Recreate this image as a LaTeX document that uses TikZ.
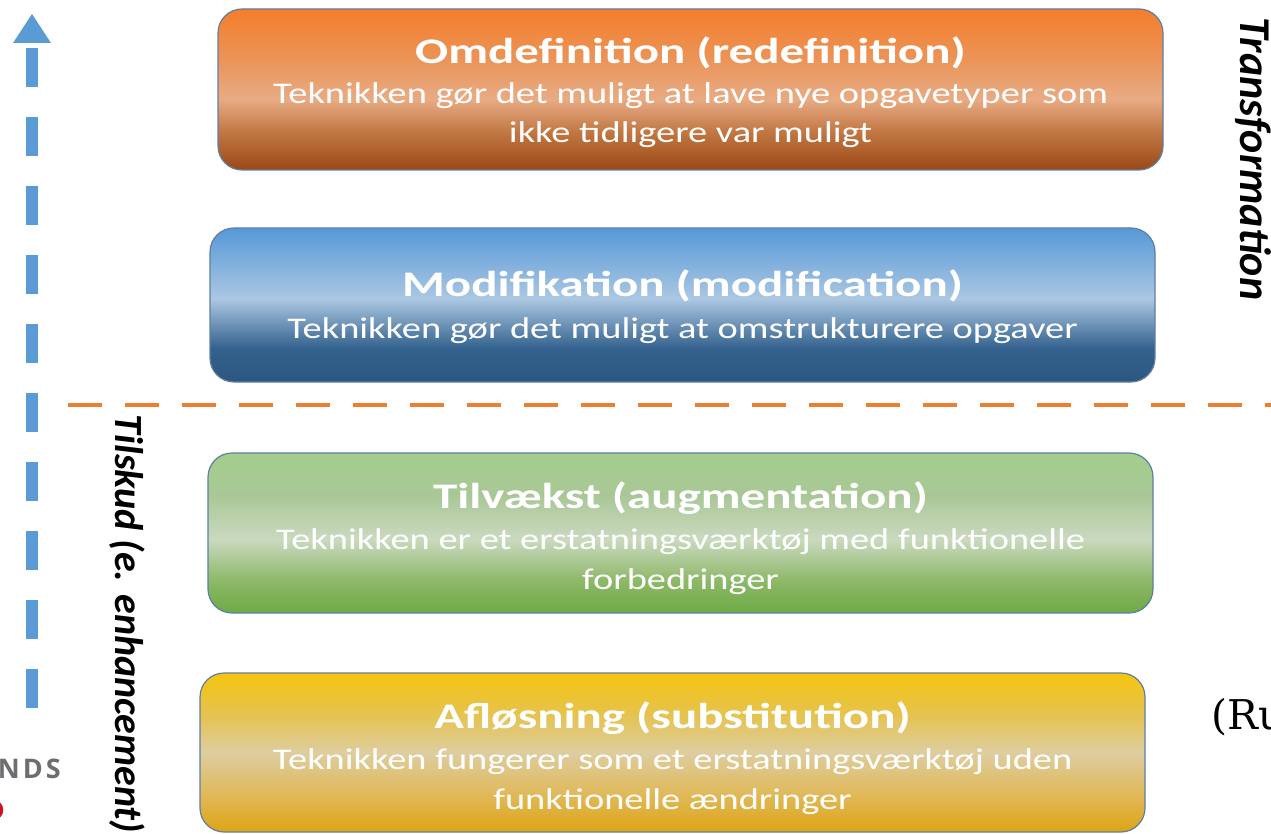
\documentclass[tikz,border=0pt]{standalone}
\usepackage{fontspec}
\setmainfont{Carlito}
\newfontfamily\slabfont{DejaVu Serif}
\newfontfamily\logofont{Open Sans}
\definecolor{arrowblue}{HTML}{5B9BD5}
\definecolor{dashorange}{HTML}{ED7D31}
\definecolor{boxborder}{HTML}{5E7FA3}
\definecolor{logogrey}{HTML}{6D6E71}
\definecolor{logored}{HTML}{D0102B}
\definecolor{oA}{HTML}{9A4816}\definecolor{oB}{HTML}{C27844}\definecolor{oC}{HTML}{E8AB84}\definecolor{oD}{HTML}{EB9356}\definecolor{oE}{HTML}{F57E2B}
\definecolor{bA}{HTML}{2C5680}\definecolor{bB}{HTML}{34628E}\definecolor{bC}{HTML}{ABC7E2}\definecolor{bD}{HTML}{5699D8}
\definecolor{gA}{HTML}{6DAA44}\definecolor{gB}{HTML}{8DB868}\definecolor{gC}{HTML}{CAD9BF}\definecolor{gD}{HTML}{A9C796}\definecolor{gE}{HTML}{A3CE8C}
\definecolor{yA}{HTML}{DEA414}\definecolor{yB}{HTML}{E0B95A}\definecolor{yC}{HTML}{DECDA0}\definecolor{yD}{HTML}{E5C34E}\definecolor{yE}{HTML}{F6C40F}
\pgfdeclareverticalshading{orangeshade}{100bp}{color(0bp)=(oA); color(25bp)=(oA); color(37bp)=(oB); color(47bp)=(oC); color(60bp)=(oD); color(75bp)=(oE); color(100bp)=(oE)}
\pgfdeclareverticalshading{blueshade}{100bp}{color(0bp)=(bA); color(25bp)=(bA); color(36bp)=(bB); color(52bp)=(bC); color(75bp)=(bD); color(100bp)=(bD)}
\pgfdeclareverticalshading{greenshade}{100bp}{color(0bp)=(gA); color(25bp)=(gA); color(35bp)=(gB); color(48bp)=(gC); color(62bp)=(gD); color(75bp)=(gE); color(100bp)=(gE)}
\pgfdeclareverticalshading{yellowshade}{100bp}{color(0bp)=(yA); color(25bp)=(yA); color(37bp)=(yB); color(50bp)=(yC); color(62bp)=(yD); color(75bp)=(yE); color(100bp)=(yE)}
\tikzset{
  levelbox/.style={draw=boxborder, line width=1.2pt, rounded corners=24pt, minimum width=945pt, inner sep=0pt},
  titletext/.style={text=white, font=\fontsize{36}{40}\selectfont\bfseries, inner sep=0pt, anchor=base, xscale=1.36, transform shape},
  bodytext/.style={text=white, font=\fontsize{30}{34}\selectfont, inner sep=0pt, anchor=base, xscale=1.28, transform shape},
  sidelabel/.style={text=black, inner sep=0pt, rotate=-90},
}
\begin{document}
\begin{tikzpicture}[x=1pt,y=-1pt]
\useasboundingbox (0,0) rectangle (1271,834);
% boxes
\node[levelbox, shading=orangeshade, minimum height=161pt] (omd) at (690.5,89.5) {};
\node[levelbox, shading=blueshade, minimum height=154pt] (mod) at (682.5,305) {};
\node[levelbox, shading=greenshade, minimum height=160pt] (til) at (680.5,533) {};
\node[levelbox, shading=yellowshade, minimum height=159pt] (afl) at (672.5,752.5) {};
% texts
\node[titletext] (omdt) at (690.5,64) {Omdefinition (redefinition)};
\node[bodytext] (omdb1) at (690.5,104) {Teknikken gør det muligt at lave nye opgavetyper som};
\node[bodytext] (omdb2) at (690.5,143) {ikke tidligere var muligt};
\node[titletext] (modt) at (682.5,296) {Modifikation (modification)};
\node[bodytext] (modb1) at (682.5,338) {Teknikken gør det muligt at omstrukturere opgaver};
\node[titletext] (tilt) at (680.5,508) {Tilvækst (augmentation)};
\node[bodytext] (tilb1) at (680.5,549) {Teknikken er et erstatningsværktøj med funktionelle};
\node[bodytext] (tilb2) at (680.5,589) {forbedringer};
\node[titletext] (aflt) at (672.5,728) {Afløsning (substitution)};
\node[bodytext] (aflb1) at (672.5,769) {Teknikken fungerer som et erstatningsværktøj uden};
\node[bodytext] (aflb2) at (672.5,809) {funktionelle ændringer};
% left dashed arrow
\coordinate (abot) at (32,708);
\coordinate (atop) at (32,45);
\draw[arrowblue, line width=12pt, dash pattern=on 39pt off 30pt] (abot) -- (atop);
\fill[arrowblue] ([xshift=-19pt,yshift=2pt]atop) -- ([xshift=19pt,yshift=2pt]atop) -- ([yshift=31pt]atop) -- cycle;
% orange divider
\coordinate (dl) at (68,405);
\coordinate (dr) at (1275,405);
\draw[dashorange, line width=4pt, dash pattern=on 34pt off 23pt] (dl) -- (dr);
% side labels
\node[sidelabel, font=\fontsize{40}{40}\selectfont\bfseries\itshape] (tilskud) at (127,624) {Tilskud (e. enhancement)};
\node[sidelabel, font=\fontsize{44}{44}\selectfont\bfseries\itshape] (transf) at (1253,159) {Transformation};
% cut-off texts (cut by the picture edge, as in the reference)
\node[font=\slabfont\fontsize{41}{41}\selectfont, anchor=base west, inner sep=0pt] (ru) at (1211,729) {(Ru};
\node[font=\logofont\bfseries\fontsize{27}{27}\selectfont, text=logogrey, anchor=base east, inner sep=0pt] (nds) at (61,778) {N\kern3pt D\kern3pt S};
\draw[logored, line width=3.5pt] (-7,810) circle (8.5);
\end{tikzpicture}
\end{document}
